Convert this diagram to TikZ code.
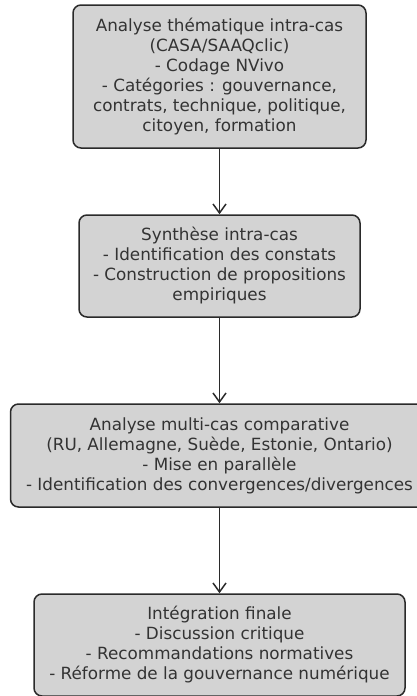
\documentclass[tikz,border=0pt]{standalone}
\usepackage{fontspec}
\setmainfont{DejaVu Sans}
\usetikzlibrary{arrows.meta}
\definecolor{boxfill}{HTML}{D3D3D3}
\definecolor{boxline}{HTML}{2A2A2A}
\definecolor{boxtext}{HTML}{333333}
\begin{document}
\begin{tikzpicture}[x=1pt,y=-1pt,
  stagebox/.style={draw=boxline, fill=boxfill, line width=1.5pt, rounded corners=8pt,
    align=center, text=boxtext, inner sep=0pt,
    font=\fontsize{16.8}{20}\selectfont},
  flow/.style={draw=boxline, line width=1.5pt, -{Straight Barb[length=9pt,width=13pt,line width=1.5pt]}}]
  \useasboundingbox (0,0) rectangle (417,696);

  \node[stagebox, minimum width=293pt, minimum height=143pt] (intra) at (219.5,76.5)
    {Analyse thématique intra-cas\\(CASA/SAAQclic)\\- Codage NVivo\\- Catégories : gouvernance,\\contrats, technique, politique,\\citoyen, formation};

  \node[stagebox, minimum width=281pt, minimum height=102pt] (synth) at (219.5,266)
    {Synthèse intra-cas\\- Identification des constats\\- Construction de propositions\\empiriques};

  \node[stagebox, minimum width=418pt, minimum height=103pt] (multi) at (219.5,455.5)
    {Analyse multi-cas comparative\\(RU, Allemagne, Suède, Estonie, Ontario)\\- Mise en parallèle\\- Identification des convergences/divergences};

  \node[stagebox, minimum width=371pt, minimum height=102pt] (final) at (219.5,645)
    {Intégration finale\\- Discussion critique\\- Recommandations normatives\\- Réforme de la gouvernance numérique};

  \draw[flow] (intra) -- (synth);
  \draw[flow] (synth) -- (multi);
  \draw[flow] (multi) -- (final);
\end{tikzpicture}
\end{document}
